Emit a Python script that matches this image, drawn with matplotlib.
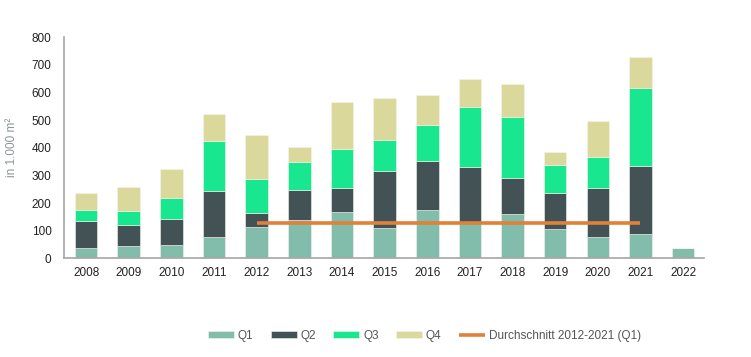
import matplotlib.pyplot as plt
import numpy as np

# Daten (in 1.000 m²), gelesen aus dem Diagramm
jahre = ['2008', '2009', '2010', '2011', '2012', '2013', '2014', '2015',
         '2016', '2017', '2018', '2019', '2020', '2021', '2022']
q1 = [38, 46, 49, 77, 112, 139, 168, 111, 175, 130, 162, 107, 77, 89, 37]
q2 = [97, 75, 93, 168, 51, 108, 86, 206, 179, 202, 127, 130, 179, 245, 0]
q3 = [40, 49, 78, 180, 125, 102, 142, 112, 128, 215, 221, 102, 111, 282, 0]
q4 = [62, 89, 104, 96, 157, 54, 170, 150, 110, 102, 120, 44, 131, 112, 0]
durchschnitt = 128  # Durchschnitt 2012-2021 (Q1)

farben = ['#82bcab', '#435254', '#19e78f', '#dad89b']
namen = ['Q1', 'Q2', 'Q3', 'Q4']

plt.rcParams['font.family'] = ['Liberation Sans', 'DejaVu Sans']

fig = plt.figure(figsize=(7.51, 3.57), dpi=100)
ax = fig.add_axes([0.0852, 0.2765, 0.8522, 0.619])

x = np.arange(len(jahre))
unten = np.zeros(len(jahre))
for werte, farbe, name in zip([q1, q2, q3, q4], farben, namen):
    ax.bar(x, werte, width=0.53, bottom=unten, color=farbe, label=name,
           edgecolor='#f4f4ee', linewidth=0.4)
    unten += np.array(werte)

# Durchschnittslinie von 2012 bis 2021
i0, i1 = jahre.index('2012'), jahre.index('2021')
ax.plot([x[i0], x[i1]], [durchschnitt, durchschnitt], color='#e0803a',
        linewidth=2.6, label='Durchschnitt 2012-2021 (Q1)', solid_capstyle='butt')

ax.set_xlim(-0.52, len(jahre) - 0.51)
ax.set_ylim(0, 800)
ax.set_yticks(range(0, 801, 100))
ax.set_xticks(x)
ax.set_xticklabels(jahre)
ax.tick_params(length=0, labelsize=8.5, colors='#222222', pad=6)
ax.tick_params(axis='y', pad=9)
for s in ['top', 'right']:
    ax.spines[s].set_visible(False)
for s in ['left', 'bottom']:
    ax.spines[s].set_color('#a6a6a6')
    ax.spines[s].set_linewidth(1.2)

ax.set_ylabel('in 1.000 m²', fontsize=8.5, color='#8a9496', labelpad=10)

handles, labels = ax.get_legend_handles_labels()
reihenfolge = [1, 2, 3, 4, 0]
leg = fig.legend([handles[i] for i in reihenfolge], [labels[i] for i in reihenfolge],
                 loc='center', bbox_to_anchor=(0.565, 0.059), ncol=5,
                 frameon=False, fontsize=8.5, handlelength=2.2,
                 handleheight=0.5, handletextpad=0.3, columnspacing=1.5)
for t in leg.get_texts():
    t.set_color('#555555')

fig.savefig('out.png', dpi=100)
